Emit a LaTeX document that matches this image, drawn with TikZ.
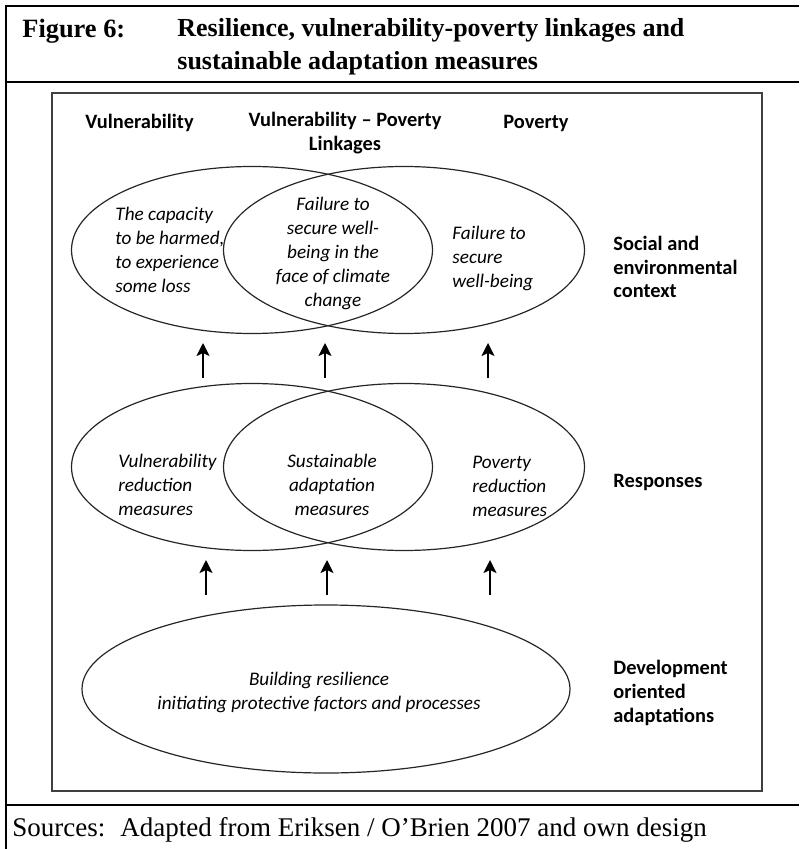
\documentclass[tikz,border=0pt]{standalone}
\usepackage{fontspec}
\setmainfont{Liberation Serif}
\newfontfamily\labelfont{Carlito}
\usepackage{tikz}
\usetikzlibrary{shapes.geometric, arrows.meta, positioning}
\tikzset{
    venn/.style={ellipse, draw=black!85, line width=0.6pt, inner sep=0pt, minimum width=180.5pt, minimum height=83.5pt},
    heading/.style={font=\labelfont\bfseries\fontsize{10.2}{11.8}\selectfont, inner sep=0pt, align=center},
    sidelabel/.style={heading, align=left, anchor=west},
    hand/.style={font=\labelfont\itshape\fontsize{9.6}{12}\selectfont, inner sep=0pt},
    uparrow/.style={line width=1pt, -{Stealth[length=6.5pt, width=6.5pt, inset=1.5pt]}},
    rule/.style={line width=1pt, draw=black}
}

\begin{document}
\begin{tikzpicture}[x=0.5pt, y=-0.5pt]
        \useasboundingbox (0,0) rectangle (799,849);
        % Outer frame and rules
        \draw [rule] (799,6) -- (6,6) -- (6,849);
        \draw [rule] (6,82) -- (799,82);
        \draw [rule] (6,805) -- (799,805);
        \node (fig) [anchor=west, inner sep=0pt, font=\bfseries\fontsize{13.2}{16.5}\selectfont] at (22,31) {Figure 6:};
        \node (title) [anchor=west, inner sep=0pt, align=left, font=\bfseries\fontsize{13}{16.5}\selectfont] at (177,47) {Resilience, vulnerability-poverty linkages and\\sustainable adaptation measures};
        \node (src) [anchor=west, inner sep=0pt, font=\fontsize{13.5}{16.5}\selectfont] at (12,830) {\makebox[54pt][l]{Sources:}Adapted from Eriksen / O'Brien 2007 and own design};

        % Inner frame
        \draw [line width=0.9pt, draw=black!75] (52,93) rectangle (762,791);

        % Headings
        \node (hvul) [heading, anchor=west] at (85,123) {Vulnerability};
        \node (hlink) [heading] at (345,133) {Vulnerability \textendash{} Poverty\\Linkages};
        \node (hpov) [heading, anchor=west] at (503,123) {Poverty};

        % Context ellipses
        \node (cvul) [venn] at (252,250) {};
        \node (cpov) [venn] at (404,250) {};
        \node [hand, anchor=west, align=left] at (115,250) {The capacity\\to be harmed,\\to experience\\some loss};
        \node [hand, align=center] at (333,253) {Failure to\\secure well-\\being in the\\face of climate\\change};
        \node [hand, anchor=west, align=left] at (452,258) {Failure to\\secure\\well-being};
        \node (lctx) [sidelabel] at (613,267) {Social and\\environmental\\context};

        % Response ellipses
        \node (rvul) [venn] at (252,467) {};
        \node (rpov) [venn] at (404,467) {};
        \node [hand, anchor=west, align=left] at (118,485) {Vulnerability\\reduction\\measures};
        \node [hand, align=center] at (332,485) {Sustainable\\adaptation\\measures};
        \node [hand, anchor=west, align=left] at (472,486) {Poverty\\reduction\\measures};
        \node (lresp) [sidelabel] at (613,482) {Responses};

        % Resilience ellipse
        \node (res) [venn, minimum width=244pt, minimum height=84pt] at (326,689) {};
        \node [hand, align=center] at (319,692) {Building resilience\\initiating protective factors and processes};
        \node (ldev) [sidelabel] at (613,693) {Development\\oriented\\adaptations};

        % Arrows
        \coordinate (a1) at (203,378); \coordinate (b1) at (203,343);
        \coordinate (a2) at (325,378); \coordinate (b2) at (325,343);
        \coordinate (a3) at (488,378); \coordinate (b3) at (488,343);
        \coordinate (c1) at (206,595); \coordinate (d1) at (206,560);
        \coordinate (c2) at (327,595); \coordinate (d2) at (327,560);
        \coordinate (c3) at (490,595); \coordinate (d3) at (490,560);
        \draw [uparrow] (a1) -- (b1);
        \draw [uparrow] (a2) -- (b2);
        \draw [uparrow] (a3) -- (b3);
        \draw [uparrow] (c1) -- (d1);
        \draw [uparrow] (c2) -- (d2);
        \draw [uparrow] (c3) -- (d3);
    \end{tikzpicture}
\end{document}
